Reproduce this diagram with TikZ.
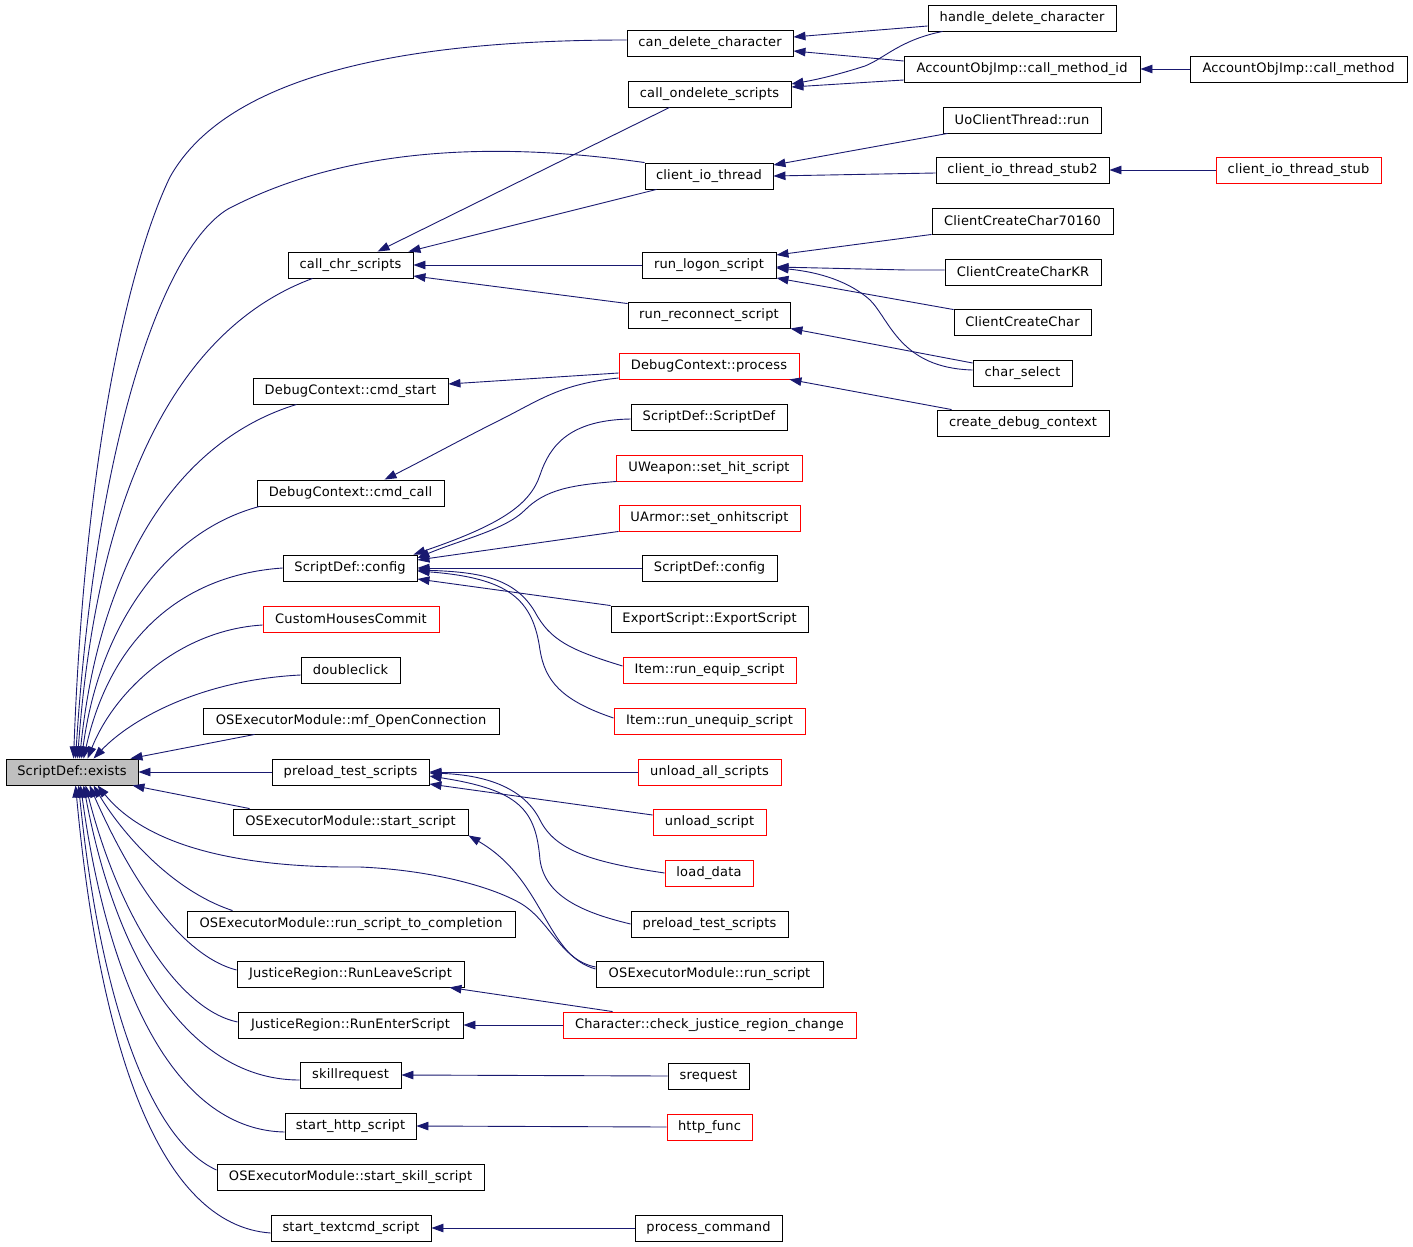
\documentclass[tikz,border=0pt]{standalone}
\usepackage{fontspec}
\setmainfont{DejaVu Sans}[LetterSpace=1.5]
\usetikzlibrary{arrows.meta,calc}
\definecolor{edgeblue}{RGB}{25,25,112}
\definecolor{boxgray}{RGB}{191,191,191}
\begin{document}
\begin{tikzpicture}[x=1pt,y=-1pt,
  box/.style={draw=black, line width=0.9pt, minimum height=26pt, inner sep=0pt, font=\fontsize{13}{15}\selectfont},
  redbox/.style={box, draw=red},
  edge/.style={draw=edgeblue, line width=0.9pt, -{Triangle[length=12pt,width=8.5pt]}}]
\useasboundingbox (0,0) rectangle (1413,1247);
\fill[white] (0,0) rectangle (1413,1247);
% rank 0
\node[box, fill=boxgray, minimum width=132pt] (ex) at (72,772) {ScriptDef::exists};
% rank 1
\node[box, minimum width=125pt] (chr) at (350.5,265) {call\_chr\_scripts};
\node[box, minimum width=195pt] (cst) at (350.5,391) {DebugContext::cmd\_start};
\node[box, minimum width=187pt] (ccl) at (350.5,493) {DebugContext::cmd\_call};
\node[box, minimum width=134pt] (cfg) at (350,568) {ScriptDef::config};
\node[redbox, minimum width=176pt] (chc) at (351,619) {CustomHousesCommit};
\node[box, minimum width=99pt] (dbl) at (350.5,670) {doubleclick};
\node[box, minimum width=296pt] (mfo) at (351,721) {OSExecutorModule::mf\_OpenConnection};
\node[box, minimum width=157pt] (pre) at (350.5,772) {preload\_test\_scripts};
\node[box, minimum width=235pt] (sts) at (350.5,822) {OSExecutorModule::start\_script};
\node[box, minimum width=328pt] (rtc) at (351,924) {OSExecutorModule::run\_script\_to\_completion};
\node[box, minimum width=227pt] (rlv) at (350.5,974) {JusticeRegion::RunLeaveScript};
\node[box, minimum width=225pt] (ren) at (350.5,1025) {JusticeRegion::RunEnterScript};
\node[box, minimum width=101pt] (skr) at (350.5,1075) {skillrequest};
\node[box, minimum width=131pt] (shs) at (350.5,1126) {start\_http\_script};
\node[box, minimum width=267pt] (sss) at (350.5,1177) {OSExecutorModule::start\_skill\_script};
\node[box, minimum width=160pt] (stc) at (351,1228) {start\_textcmd\_script};
% rank 2
\node[box, minimum width=166pt] (can) at (710,43) {can\_delete\_character};
\node[box, minimum width=163pt] (cod) at (709.5,94) {call\_ondelete\_scripts};
\node[box, minimum width=128pt] (cio) at (709,176) {client\_io\_thread};
\node[box, minimum width=134pt] (rlg) at (709,265) {run\_logon\_script};
\node[box, minimum width=162pt] (rrc) at (709,315) {run\_reconnect\_script};
\node[redbox, minimum width=180pt] (dcp) at (709,366) {DebugContext::process};
\node[box, minimum width=156pt] (sds) at (709,417) {ScriptDef::ScriptDef};
\node[redbox, minimum width=186pt] (uws) at (709,468) {UWeapon::set\_hit\_script};
\node[redbox, minimum width=181pt] (uas) at (709.5,518) {UArmor::set\_onhitscript};
\node[box, minimum width=135pt] (cfgb) at (709.5,568) {ScriptDef::config};
\node[box, minimum width=197pt] (exs) at (709.5,619) {ExportScript::ExportScript};
\node[redbox, minimum width=173pt] (req) at (709.5,670) {Item::run\_equip\_script};
\node[redbox, minimum width=191pt] (runeq) at (709.5,721) {Item::run\_unequip\_script};
\node[redbox, minimum width=143pt] (ual) at (709.5,772) {unload\_all\_scripts};
\node[redbox, minimum width=113pt] (uls) at (709.5,822) {unload\_script};
\node[redbox, minimum width=88pt] (ldd) at (709,873) {load\_data};
\node[box, minimum width=157pt] (preb) at (709.5,924) {preload\_test\_scripts};
\node[box, minimum width=227pt] (rsc) at (709.5,974) {OSExecutorModule::run\_script};
\node[redbox, minimum width=293pt] (cjr) at (709.5,1025) {Character::check\_justice\_region\_change};
\node[box, minimum width=81pt] (srq) at (708.5,1076) {srequest};
\node[redbox, minimum width=85pt] (htf) at (709.5,1127) {http\_func};
\node[box, minimum width=147pt] (pcm) at (708.5,1228) {process\_command};
% rank 3
\node[box, minimum width=188pt] (hdc) at (1022,18) {handle\_delete\_character};
\node[box, minimum width=236pt] (cmi) at (1022,69) {AccountObjImp::call\_method\_id};
\node[box, minimum width=158pt] (uct) at (1022,120) {UoClientThread::run};
\node[box, minimum width=173pt] (sttwo) at (1022.5,170) {client\_io\_thread\_stub2};
\node[box, minimum width=181pt] (ccs) at (1022.5,221) {ClientCreateChar70160};
\node[box, minimum width=156pt] (cck) at (1023,272) {ClientCreateCharKR};
\node[box, minimum width=137pt] (ccc) at (1022.5,322) {ClientCreateChar};
\node[box, minimum width=99pt] (chs) at (1022.5,373) {char\_select};
\node[box, minimum width=172pt] (cdc) at (1023,423) {create\_debug\_context};
% rank 4
\node[box, minimum width=217pt] (cm) at (1298.5,69) {AccountObjImp::call\_method};
\node[redbox, minimum width=165pt] (stone) at (1298.5,170) {client\_io\_thread\_stub};

% edges into ScriptDef::exists (top)
\draw[edge] ($(can.west)+(0,-3)$) .. controls (420,40) and (230,70) .. (170,177) .. controls (130,260) and (85,450) .. ($(ex.north west)+(68,0)$);
\draw[edge] (cio.north west) .. controls (520,145) and (360,140) .. (228,209) .. controls (160,250) and (95,450) .. ($(ex.north west)+(70,0)$);
\draw[edge] ($(chr.south west)+(25,0)$) .. controls (200,320) and (100,450) .. ($(ex.north west)+(72,0)$);
\draw[edge] ($(cst.south west)+(44,0)$) .. controls (180,440) and (100,560) .. ($(ex.north west)+(74,0)$);
\draw[edge] ($(ccl.south west)+(3,0)$) .. controls (170,530) and (100,620) .. ($(ex.north west)+(76,0)$);
\draw[edge] (cfg.west) .. controls (180,575) and (110,640) .. ($(ex.north west)+(78,0)$);
\draw[edge] ($(chc.west)+(0,6)$) .. controls (180,630) and (115,690) .. ($(ex.north west)+(82,0)$);
\draw[edge] ($(dbl.west)+(0,5)$) .. controls (200,680) and (130,720) .. ($(ex.north west)+(88,0)$);
\draw[edge] ($(mfo.south west)+(52,0)$) -- ($(ex.north east)+(-8,0)$);
\draw[edge] (pre.west) -- (ex.east);
% edges into ScriptDef::exists (bottom)
\draw[edge] ($(sts.north west)+(17,0)$) -- ($(ex.south east)+(-6,0)$);
\draw[edge] ($(rsc.west)+(0,-7)$) .. controls (560,960) and (550,920) .. (520,903) .. controls (490,886) and (430,870) .. (360,867) .. controls (250,868) and (150,850) .. ($(ex.south west)+(92,0)$);
\draw[edge] ($(rtc.north west)+(46,0)$) .. controls (170,890) and (120,830) .. ($(ex.south west)+(88,0)$);
\draw[edge] ($(rlv.west)+(0,-4)$) .. controls (190,958) and (140,900) .. ($(ex.south west)+(84,0)$);
\draw[edge] ($(ren.west)+(0,-3)$) .. controls (180,1010) and (120,920) .. ($(ex.south west)+(80,0)$);
\draw[edge] ($(skr.west)+(0,5)$) .. controls (200,1080) and (120,980) .. ($(ex.south west)+(78,0)$);
\draw[edge] ($(shs.west)+(0,6)$) .. controls (180,1130) and (110,1000) .. ($(ex.south west)+(75,0)$);
\draw[edge] ($(sss.west)+(0,-7)$) .. controls (150,1140) and (100,1000) .. ($(ex.south west)+(73,0)$);
\draw[edge] ($(stc.west)+(0,5)$) .. controls (160,1225) and (100,1050) .. ($(ex.south west)+(70,0)$);

% upper region
\draw[edge] ($(hdc.west)+(0,8)$) -- ($(can.east)+(0,-6)$);
\draw[edge] ($(cmi.west)+(0,-8)$) -- ($(can.east)+(0,8)$);
\draw[edge] ($(hdc.south west)+(15,0)$) .. controls (900,40) and (885,58) .. (865,66) .. controls (840,74) and (820,79) .. ($(cod.east)+(0,-10)$);
\draw[edge] ($(cmi.west)+(0,11)$) -- ($(cod.east)+(0,-7)$);
\draw[edge] (cm.west) -- (cmi.east);
\draw[edge] ($(cod.south west)+(42,0)$) -- ($(chr.north west)+(90,0)$);
\draw[edge] ($(cio.south west)+(12,0)$) -- ($(chr.north east)+(-5,0)$);
\draw[edge] (rlg.west) -- (chr.east);
\draw[edge] ($(rrc.north west)+(0,2)$) -- ($(chr.east)+(0,11)$);
\draw[edge] ($(uct.south west)+(5,0)$) -- ($(cio.east)+(0,-11)$);
\draw[edge] ($(sttwo.west)+(0,3)$) -- (cio.east);
\draw[edge] (stone.west) -- (sttwo.east);
\draw[edge] (ccs.south west) -- ($(rlg.east)+(0,-10)$);
\draw[edge] ($(cck.west)+(0,-2)$) -- (907,270) -- ($(rlg.east)+(0,2)$);
\draw[edge] ($(ccc.north west)+(0,1)$) -- ($(rlg.east)+(0,13)$);
\draw[edge] ($(chs.west)+(0,-3)$) .. controls (900,368) and (890,320) .. (870,300) .. controls (850,282) and (820,272) .. ($(rlg.east)+(0,3)$);
\draw[edge] ($(chs.west)+(0,-10)$) -- (rrc.south east);
\draw[edge] ($(dcp.west)+(0,7)$) -- ($(cst.east)+(0,-7)$);
\draw[edge] ($(dcp.west)+(0,12)$) .. controls (560,384) and (540,400) .. (500,420) .. controls (460,440) and (420,462) .. ($(ccl.north west)+(128,0)$);
\draw[edge] ($(cdc.north west)+(15,0)$) -- ($(dcp.south east)+(-10,0)$);

% ScriptDef::config fan
\draw[edge] ($(sds.west)+(0,2)$) .. controls (570,420) and (550,445) .. (540,475) .. controls (530,505) and (500,525) .. ($(cfg.north east)+(-4,0)$);
\draw[edge] ($(uws.south west)+(1,0)$) .. controls (570,485) and (545,490) .. (525,510) .. controls (505,530) and (460,540) .. ($(cfg.east)+(0,-10)$);
\draw[edge] (uas.south west) -- ($(cfg.east)+(0,-8)$);
\draw[edge] (cfgb.west) -- (cfg.east);
\draw[edge] (exs.north west) -- ($(cfg.east)+(0,11)$);
\draw[edge] ($(req.west)+(0,-4)$) .. controls (570,650) and (550,640) .. (535,612) .. controls (515,578) and (480,572) .. ($(cfg.east)+(0,2)$);
\draw[edge] ($(runeq.west)+(0,-3)$) .. controls (560,700) and (545,680) .. (540,650) .. controls (533,600) and (510,578) .. ($(cfg.east)+(0,3)$);

% preload fan
\draw[edge] (ual.west) -- (pre.east);
\draw[edge] ($(uls.west)+(0,-7)$) -- ($(pre.east)+(0,12)$);
\draw[edge] (ldd.west) .. controls (590,862) and (555,850) .. (540,820) .. controls (525,790) and (490,775) .. ($(pre.east)+(0,1)$);
\draw[edge] (preb.west) .. controls (580,912) and (545,895) .. (540,860) .. controls (536,810) and (520,790) .. ($(pre.east)+(0,4)$);

% lower region
\draw[edge] ($(rsc.west)+(0,-5)$) .. controls (545,955) and (545,880) .. (sts.south east);
\draw[edge] ($(cjr.north west)+(50,0)$) -- ($(rlv.south east)+(-15,0)$);
\draw[edge] (cjr.west) -- (ren.east);
\draw[edge] (srq.west) -- (skr.east);
\draw[edge] (htf.west) -- (shs.east);
\draw[edge] (pcm.west) -- (stc.east);
\end{tikzpicture}
\end{document}
